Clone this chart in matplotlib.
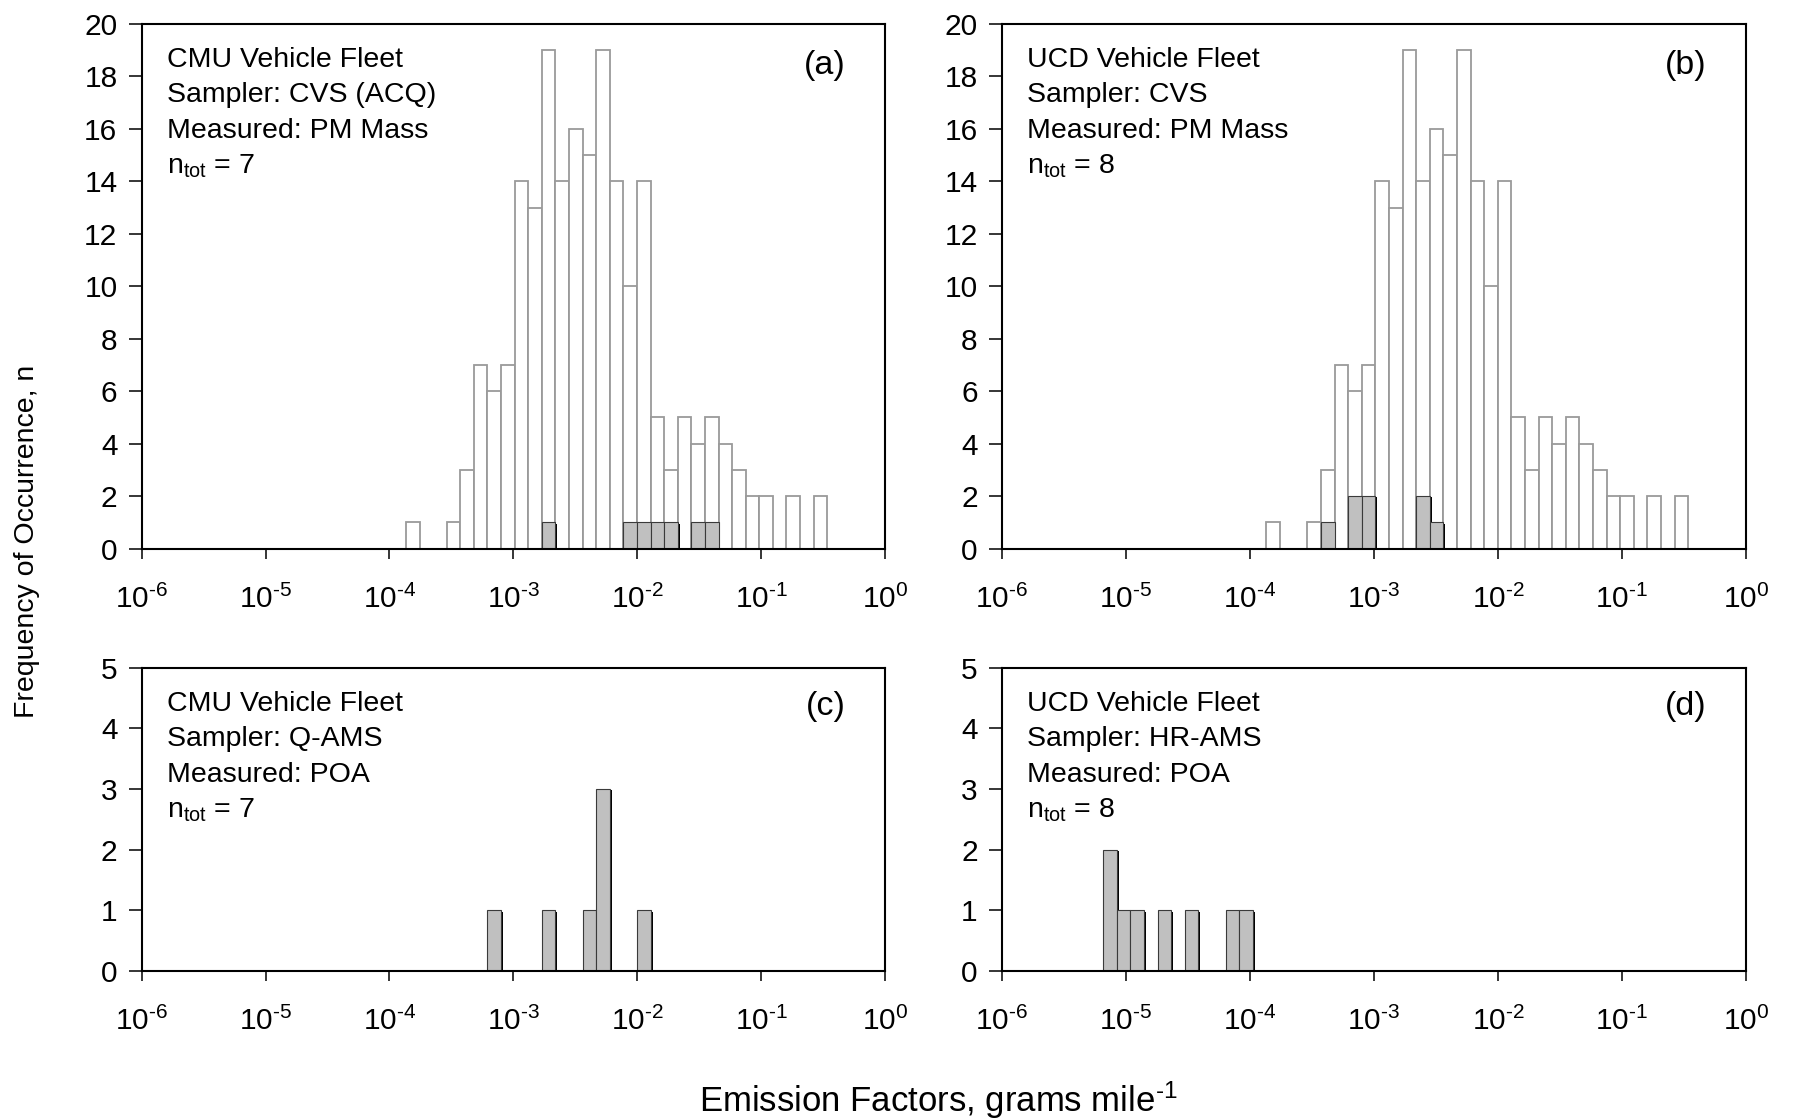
import matplotlib
matplotlib.use('Agg')
import matplotlib.pyplot as plt
import matplotlib.patheffects as pe
import matplotlib.ticker as mticker
import numpy as np

plt.rcParams['font.family'] = ['Liberation Sans', 'DejaVu Sans']
plt.rcParams['mathtext.fontset'] = 'custom'
plt.rcParams['mathtext.rm'] = 'Liberation Sans'
plt.rcParams['mathtext.it'] = 'Liberation Sans:italic'
plt.rcParams['mathtext.bf'] = 'Liberation Sans:bold'
plt.rcParams['mathtext.default'] = 'regular'

# ---- data -------------------------------------------------------------
# histogram bins (log10 of a bin's left edge = BIN_START + index * BIN_STEP)
BIN_START = -3.867
BIN_STEP = 0.1097

# whole-fleet distribution (open bars, panels a and b)
fleet_bin_index = list(range(31))
fleet_counts = [1, 0, 0, 1, 3, 7, 6, 7, 14, 13, 19, 14, 16, 15, 19, 14,
                10, 14, 5, 3, 5, 4, 5, 4, 3, 2, 2, 0, 2, 0, 2]

# measured vehicles (grey bars)
a_bin_index = [10, 16, 17, 18, 19, 21, 22]
a_counts = [1, 1, 1, 1, 1, 1, 1]
b_bin_index = [4, 6, 7, 11, 12]
b_counts = [1, 2, 2, 2, 1]
c_bin_index = [6, 10, 13, 14, 17]
c_counts = [1, 1, 1, 3, 1]
d_bin_index = [-12, -11, -10, -8, -6, -3, -2]
d_counts = [2, 1, 1, 1, 1, 1, 1]

panel_letters = ['(a)', '(b)', '(c)', '(d)']
fleets = ['CMU Vehicle Fleet', 'UCD Vehicle Fleet', 'CMU Vehicle Fleet', 'UCD Vehicle Fleet']
samplers = ['Sampler: CVS (ACQ)', 'Sampler: CVS', 'Sampler: Q-AMS', 'Sampler: HR-AMS']
measured = ['Measured: PM Mass', 'Measured: PM Mass', 'Measured: POA', 'Measured: POA']
n_tot = [7, 8, 7, 8]

x_ticks = [1e-6, 1e-5, 1e-4, 1e-3, 1e-2, 1e-1, 1e0]
y_ticks_top = [0, 2, 4, 6, 8, 10, 12, 14, 16, 18, 20]
y_ticks_bottom = [0, 1, 2, 3, 4, 5]

# ---- figure -----------------------------------------------------------
W, H = 1806, 1118
fig = plt.figure(figsize=(W / 100, H / 100), dpi=100)

def frac(l, r, t, b):
    return [l / W, (H - b) / H, (r - l) / W, (b - t) / H]

axes = [
    fig.add_axes(frac(141.7, 885, 24, 548.5)),
    fig.add_axes(frac(1002, 1746, 24, 548.5)),
    fig.add_axes(frac(141.7, 885, 667.7, 971)),
    fig.add_axes(frac(1002, 1746, 667.7, 971)),
]

def edges(idx):
    idx = np.asarray(idx, dtype=float)
    left = 10 ** (BIN_START + idx * BIN_STEP)
    right = 10 ** (BIN_START + (idx + 1) * BIN_STEP)
    return left, right - left

def decade_label(v, pos):
    e = int(round(np.log10(v)))
    return r'$10^{\text{%d}}$' % e

shadow = [pe.SimplePatchShadow(offset=(1.4, -1.0), shadow_rgbFace='black', alpha=1.0),
          pe.Normal()]

grey_sets = [(a_bin_index, a_counts), (b_bin_index, b_counts),
             (c_bin_index, c_counts), (d_bin_index, d_counts)]

FS_TICK = 21.5
FS_TEXT = 20.5
for i, ax in enumerate(axes):
    top = i < 2
    if top:
        l, w = edges(fleet_bin_index)
        ax.bar(l, fleet_counts, width=w, align='edge', facecolor='white',
               edgecolor='#9a9a9a', linewidth=1.3, zorder=2.0)
    gi, gc = grey_sets[i]
    l, w = edges(gi)
    bars = ax.bar(l, gc, width=w, align='edge', facecolor='#c0c0c0',
                  edgecolor='#3a3a3a', linewidth=0.8, zorder=2.2)
    for b in bars:
        b.set_path_effects(shadow)

    ax.set_xscale('log')
    ax.set_xlim(1e-6, 1)
    ax.set_xticks(x_ticks)
    ax.xaxis.set_major_formatter(mticker.FuncFormatter(decade_label))
    ax.xaxis.set_minor_locator(mticker.NullLocator())
    if top:
        ax.set_ylim(0, 20)
        ax.set_yticks(y_ticks_top)
    else:
        ax.set_ylim(0, 5)
        ax.set_yticks(y_ticks_bottom)
    for s in ax.spines.values():
        s.set_linewidth(1.5)
        s.set_zorder(3)
    ax.tick_params(axis='y', direction='out', length=9.5, width=1.1, pad=8, labelsize=FS_TICK)
    ax.tick_params(axis='x', direction='out', length=7, width=1.1, pad=19, labelsize=FS_TICK)

    lines = [fleets[i], samplers[i], measured[i],
             'n$_{\\mathregular{tot}}$ = %d' % n_tot[i]]
    baselines = [43, 78.5, 114, 149.5]
    for txt, yb in zip(lines, baselines):
        ax.annotate(txt, xy=(0, 1), xycoords='axes fraction',
                    xytext=(25, -yb), textcoords='offset pixels',
                    ha='left', va='baseline', fontsize=FS_TEXT)
    ax.text(0.947, 0.92 if top else 0.872, panel_letters[i], transform=ax.transAxes,
            ha='right', va='center', fontsize=24.5)

fig.text(0.015, 0.516, 'Frequency of Occurrence, n', rotation=90,
         ha='center', va='center', fontsize=20.5)
fig.text(0.5195, 0.016, r'Emission Factors, grams mile$^{\text{-1}}$',
         ha='center', va='center', fontsize=25)

fig.savefig('out.png', dpi=100, facecolor='white')
